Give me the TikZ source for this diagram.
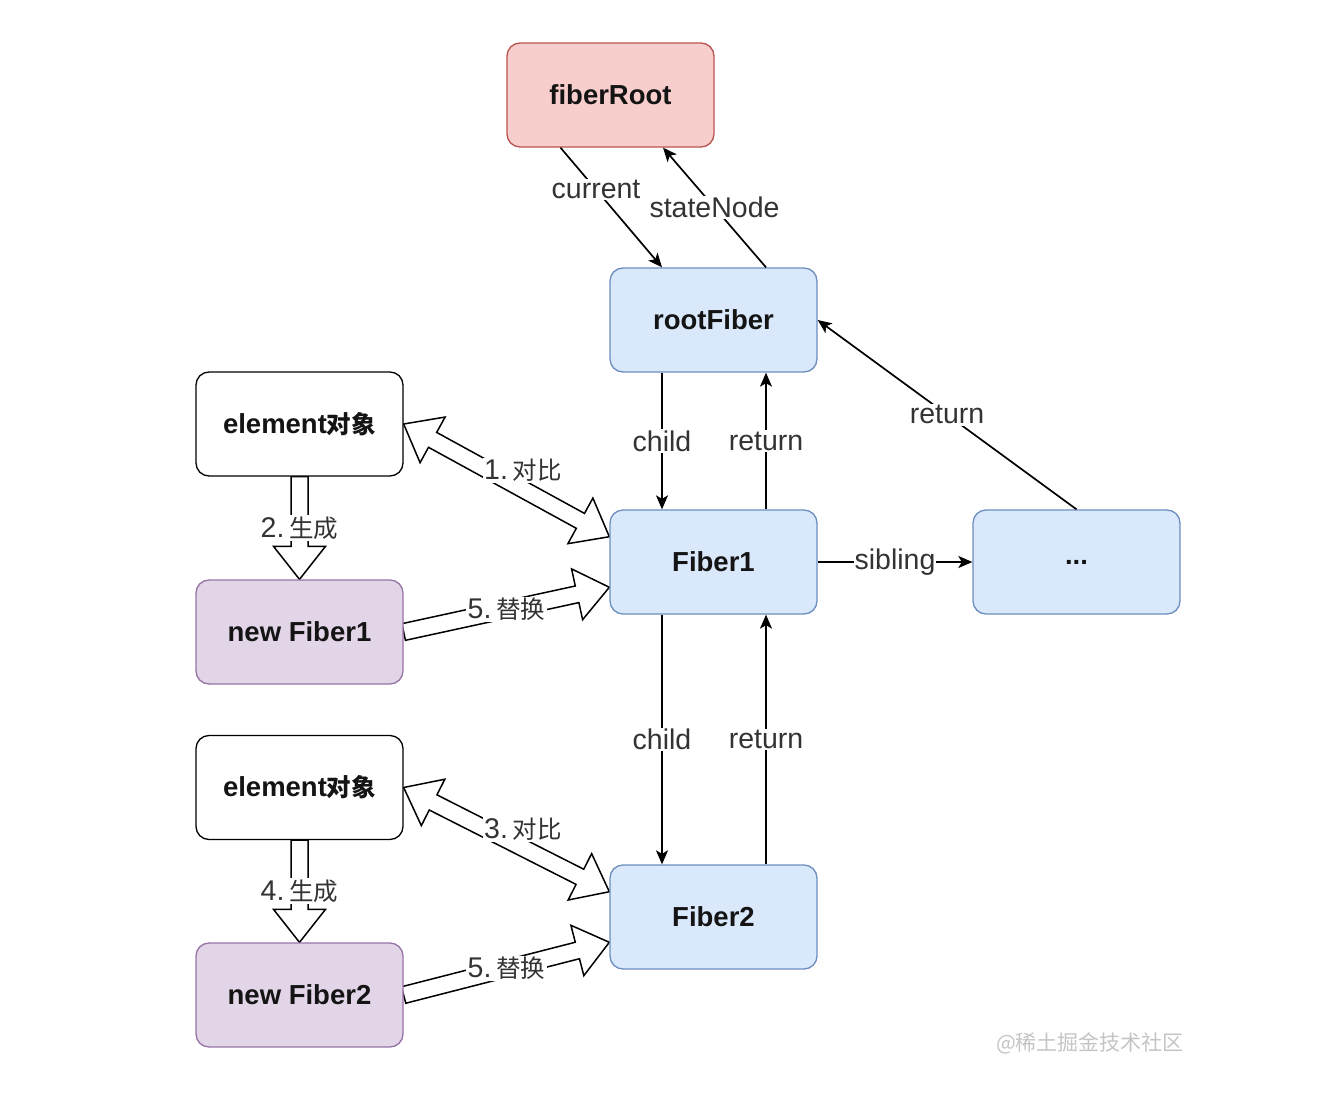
\documentclass[tikz,border=0pt]{standalone}
\usepackage{fontspec}
\setmainfont{Liberation Sans}
\newfontfamily\cjk{Noto Sans CJK SC}
\newcommand\zh[1]{{\cjk\fontsize{24.5}{28}\selectfont #1}}
\usetikzlibrary{arrows.meta,calc,backgrounds}

\definecolor{redfill}{HTML}{F8CECC}
\definecolor{redline}{HTML}{B85450}
\definecolor{bluefill}{HTML}{DAE8FC}
\definecolor{blueline}{HTML}{6C8EBF}
\definecolor{purplefill}{HTML}{E1D5E7}
\definecolor{purpleline}{HTML}{9673A6}
\definecolor{labelgray}{HTML}{333333}
\definecolor{markgray}{HTML}{C4C4C4}

\tikzset{
  box/.style={draw, rounded corners=13pt, minimum width=207pt, minimum height=104pt,
    line width=1.3pt, text=black!92, font=\fontsize{27.5}{32}\selectfont\bfseries},
  redbox/.style={box, fill=redfill, draw=redline},
  bluebox/.style={box, fill=bluefill, draw=blueline},
  purplebox/.style={box, fill=purplefill, draw=purpleline},
  plainbox/.style={box, fill=white, draw=black},
  link/.style={line width=1.7pt, draw=black, -{Stealth[length=14pt,width=12pt,inset=3.5pt]}},
  lbl/.style={fill=white, inner sep=1.5pt, text=labelgray, font=\fontsize{28.5}{34}\selectfont},
  hollow/.style={draw=black, fill=white, line width=1.5pt, line join=miter},
}

% hollow block arrow with one head, from #1 to #2
\newcommand\flexsingle[2]{%
  \draw[hollow] let \p1=(#1), \p2=(#2),
      \n1={atan2(\y2-\y1,\x2-\x1)}, \n2={veclen(\x2-\x1,\y2-\y1)} in
    [shift={(\p1)}, rotate=\n1]
    (0pt,8.5pt) -- ({\n2-33pt},8.5pt) -- ({\n2-33pt},26pt) -- ({\n2+0pt},0pt)
    -- ({\n2-33pt},-26pt) -- ({\n2-33pt},-8.5pt) -- (0pt,-8.5pt) -- cycle;
}
% hollow block arrow with a head at both ends
\newcommand\flexdouble[2]{%
  \draw[hollow] let \p1=(#1), \p2=(#2),
      \n1={atan2(\y2-\y1,\x2-\x1)}, \n2={veclen(\x2-\x1,\y2-\y1)} in
    [shift={(\p1)}, rotate=\n1]
    (0pt,0pt) -- (33pt,26pt) -- (33pt,8.5pt) -- ({\n2-33pt},8.5pt) -- ({\n2-33pt},26pt)
    -- ({\n2+0pt},0pt) -- ({\n2-33pt},-26pt) -- ({\n2-33pt},-8.5pt) -- (33pt,-8.5pt)
    -- (33pt,-26pt) -- cycle;
}

\begin{document}
\begin{tikzpicture}[x=1pt,y=-1pt]
  \useasboundingbox (0,0) rectangle (1342,1116);

  % fiber tree
  \node[redbox]    (fiberroot) at (610.5,95)   {fiberRoot};
  \node[bluebox]   (rootfiber) at (713.5,320)  {rootFiber};
  \node[bluebox]   (fiber1)    at (713.5,562)  {Fiber1};
  \node[bluebox]   (dots)      at (1076.5,562) {...};
  \node[bluebox]   (fiber2)    at (713.5,917)  {Fiber2};

  % element objects and the fibers built from them
  \node[plainbox]  (element1)  at (299.5,424)  {element\zh{对象}};
  \node[purplebox] (newfiber1) at (299.5,632)  {new Fiber1};
  \node[plainbox]  (element2)  at (299.5,787.5) {element\zh{对象}};
  \node[purplebox] (newfiber2) at (299.5,995)  {new Fiber2};

  % contact points on the left side of the fibers
  \coordinate (f1a) at ($(fiber1.north west)!0.26!(fiber1.south west)$);
  \coordinate (f1b) at ($(fiber1.north west)!0.74!(fiber1.south west)$);
  \coordinate (f2a) at ($(fiber2.north west)!0.26!(fiber2.south west)$);
  \coordinate (f2b) at ($(fiber2.north west)!0.74!(fiber2.south west)$);

  \begin{pgfonlayer}{background}
    \flexdouble{element1.east}{f1a}
    \flexsingle{element1.south}{newfiber1.north}
    \flexsingle{newfiber1.east}{f1b}
    \flexdouble{element2.east}{f2a}
    \flexsingle{element2.south}{newfiber2.north}
    \flexsingle{newfiber2.east}{f2b}
  \end{pgfonlayer}

  % labels of the block arrows
  \path (element1.east) -- node[lbl,pos=0.58,yshift=19pt] {1.\,\zh{对比}} (f1a);
  \path (element1.south) -- node[lbl] {2.\,\zh{生成}} (newfiber1.north);
  \path (newfiber1.east) -- node[lbl] {5.\,\zh{替换}} (f1b);
  \path (element2.east) -- node[lbl,pos=0.58,yshift=19pt] {3.\,\zh{对比}} (f2a);
  \path (element2.south) -- node[lbl] {4.\,\zh{生成}} (newfiber2.north);
  \path (newfiber2.east) -- node[lbl] {5.\,\zh{替换}} (f2b);

  % pointers between fibers
  \draw[link] ([xshift=-50pt]fiberroot.south) -- node[lbl,pos=0.35] {current} ([xshift=-51.5pt]rootfiber.north);
  \draw[link] ([xshift=52.5pt]rootfiber.north) -- node[lbl] {stateNode} ([xshift=52.5pt]fiberroot.south);
  \draw[link] ([xshift=-51.5pt]rootfiber.south) -- node[lbl] {child} ([xshift=-51.5pt]fiber1.north);
  \draw[link] ([xshift=52.5pt]fiber1.north) -- node[lbl] {return} ([xshift=52.5pt]rootfiber.south);
  \draw[link] (dots.north) -- node[lbl] {return} (rootfiber.east);
  \draw[link] (fiber1.east) -- node[lbl,inner sep=1pt] {sibling} (dots.west);
  \draw[link] ([xshift=-51.5pt]fiber1.south) -- node[lbl] {child} ([xshift=-51.5pt]fiber2.north);
  \draw[link] ([xshift=52.5pt]fiber2.north) -- node[lbl] {return} ([xshift=52.5pt]fiber1.south);

  % watermark
  \node[text=markgray, font=\cjk\fontsize{21}{24}\selectfont] (mark) at (1090,1043) {@稀土掘金技术社区};
\end{tikzpicture}
\end{document}
